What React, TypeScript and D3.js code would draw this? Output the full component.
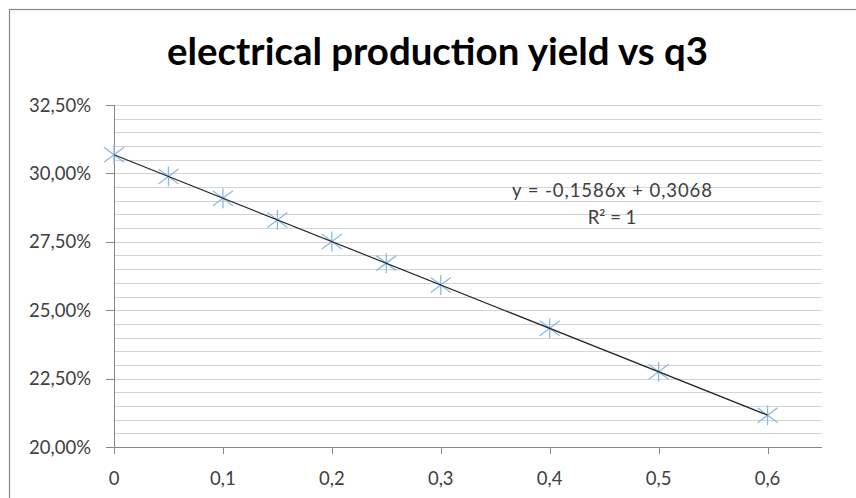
import React from "react";
import * as d3 from "d3";

const xValues = [0, 0.05, 0.1, 0.15, 0.2, 0.25, 0.3, 0.4, 0.5, 0.6];
const yValues = [0.3068, 0.2989, 0.2909, 0.283, 0.2751, 0.2672, 0.2592, 0.2434, 0.2275, 0.2116];
const yTicks = [0.2, 0.225, 0.25, 0.275, 0.3, 0.325];
const xTicks = [0, 0.1, 0.2, 0.3, 0.4, 0.5, 0.6];
const slope = -0.1586;
const intercept = 0.3068;
const title = "electrical production yield vs q3";
const equation = "y = -0,1586x + 0,3068";

const W = 856;
const H = 498;
const left = 114;
const right = 822;
const top = 105;
const bottom = 447;
const font = "Lato, 'Open Sans', sans-serif";

export default function App() {
  const x = d3.scaleLinear().domain([0, 0.65]).range([left, right]);
  const y = d3.scaleLinear().domain([0.2, 0.325]).range([bottom, top]);
  const minor = d3.range(0, 26).map((i) => 0.2 + i * 0.005);
  const fmtY = (v: number) => (v * 100).toFixed(2).replace(".", ",") + "%";
  const fmtX = (v: number) => (v === 0 ? "0" : v.toFixed(1).replace(".", ","));
  const lineGen = d3
    .line<number>()
    .x((d) => x(d))
    .y((d) => y(intercept + slope * d));
  const s = 10;
  const d45 = 7.5;
  return (
    <svg width={W} height={H} style={{ position: "absolute", left: 0, top: 0 }}>
      <rect x={0} y={0} width={W} height={H} fill="#fff" />
      <rect x={9.5} y={9.5} width={W + 20} height={H + 20} fill="none" stroke="#898989" strokeWidth={1.2} />
      <text x={437.5} y={65} textAnchor="middle" fontFamily={font} fontWeight="bold" fontSize={38} textLength={541} lengthAdjust="spacingAndGlyphs" fill="#000">
        {title}
      </text>
      {minor.map((v, i) => (
        <line key={i} x1={left} x2={right} y1={Math.round(y(v)) + 0.5} y2={Math.round(y(v)) + 0.5} stroke="#d4d4d4" strokeWidth={1} />
      ))}
      <line x1={left + 0.5} x2={left + 0.5} y1={top} y2={bottom + 7} stroke="#868686" />
      <line x1={left} x2={right} y1={Math.round(y(0.2)) + 0.5} y2={Math.round(y(0.2)) + 0.5} stroke="#868686" />
      {yTicks.map((v) => (
        <g key={v}>
          <line x1={left - 8} x2={left} y1={Math.round(y(v)) + 0.5} y2={Math.round(y(v)) + 0.5} stroke="#868686" />
          <text x={91} y={y(v)} dy="0.36em" textAnchor="end" fontFamily={font} fontSize={18.5} fill="#404040">
            {fmtY(v)}
          </text>
        </g>
      ))}
      {xTicks.map((v) => (
        <g key={v}>
          <line x1={Math.round(x(v)) + 0.5} x2={Math.round(x(v)) + 0.5} y1={bottom} y2={bottom + 7} stroke="#868686" />
          <text x={x(v)} y={478} dy="0.36em" textAnchor="middle" fontFamily={font} fontSize={18.5} fill="#404040">
            {fmtX(v)}
          </text>
        </g>
      ))}
      {xValues.map((xv, i) => {
        const cx = x(xv);
        const cy = y(yValues[i]);
        return (
          <g key={i} stroke="#8db9e6" strokeWidth={1.3}>
            <line x1={cx} x2={cx} y1={cy - s} y2={cy + s} />
            <line x1={cx - 10} x2={cx + 10} y1={cy - d45} y2={cy + d45} />
            <line x1={cx - 10} x2={cx + 10} y1={cy + d45} y2={cy - d45} />
          </g>
        );
      })}
      <path d={lineGen([0, 0.6]) ?? ""} fill="none" stroke="#262626" strokeWidth={1.2} />
      <text x={612} y={197} textAnchor="middle" fontFamily={font} fontSize={18.5} textLength={200} lengthAdjust="spacing" fill="#404040">
        {equation}
      </text>
      <text x={612} y={224} textAnchor="middle" fontFamily={font} fontSize={18.5} fill="#404040">
        R² = 1
      </text>
    </svg>
  );
}
